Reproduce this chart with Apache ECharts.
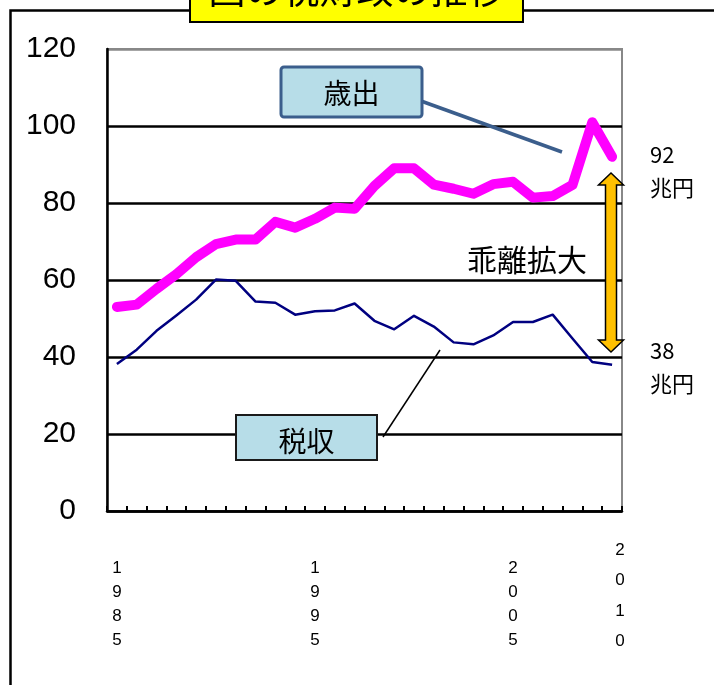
<!DOCTYPE html>
<html>
<head>
<meta charset="utf-8">
<script src="https://cdn.jsdelivr.net/npm/echarts@6/dist/echarts.min.js"></script>
<style>
  html, body { margin: 0; padding: 0; background: #ffffff; }
  #chart { width: 714px; height: 685px; }
</style>
</head>
<body>
<div id="chart"></div>
<script>
// Fiscal years on the category axis
const years = ['1985','1986','1987','1988','1989','1990','1991','1992','1993','1994',
               '1995','1996','1997','1998','1999','2000','2001','2002','2003','2004',
               '2005','2006','2007','2008','2009','2010'];
// Years that get a stacked label under the axis
const labelledYears = ['1985','1995','2005','2010'];
// General account expenditure (trillion yen)
const expenditure = [53.0, 53.6, 57.7, 61.5, 65.9, 69.3, 70.5, 70.5, 75.1, 73.6,
                     75.9, 78.8, 78.5, 84.4, 89.0, 89.0, 84.8, 83.7, 82.4, 84.9,
                     85.5, 81.4, 81.8, 84.7, 101.0, 92];
// Tax revenue (trillion yen)
const taxRevenue = [38.2, 41.9, 46.8, 50.8, 54.9, 60.1, 59.8, 54.4, 54.1, 51.0,
                    51.9, 52.1, 53.9, 49.4, 47.2, 50.7, 47.9, 43.8, 43.3, 45.6,
                    49.1, 49.1, 51.0, 44.8, 38.7, 38];
// Value axis ticks
const yTicks = [0, 20, 40, 60, 80, 100, 120];

const narrow = "'Liberation Sans Narrow', 'Liberation Sans', Arial, sans-serif";
const jp = "'Noto Sans CJK JP', 'Noto Sans', sans-serif";

const chart = echarts.init(document.getElementById('chart'), null, { renderer: 'canvas' });

function yearLabel(v) {
  if (labelledYears.indexOf(v) < 0) return '';
  const chars = v.split('');
  if (v === '2010') return chars.map(c => '{b|' + c + '}').join('\n');
  return '{p| }\n' + chars.map(c => '{a|' + c + '}').join('\n');
}

function endText(p) {
  return '{n|' + p.value + '}\n{u|兆円}';
}
const endRich = {
  n: { fontSize: 22, lineHeight: 33, fontFamily: jp, color: '#000' },
  u: { fontSize: 22, lineHeight: 33, fontFamily: jp, color: '#000' }
};

// Double-headed arrow between the two series ends
const ax = 611, aTop = 173, aBot = 352, hw = 12.5, hl = 12, sw = 5.5;
const arrowPts = [
  [ax, aTop], [ax + hw, aTop + hl], [ax + sw, aTop + hl], [ax + sw, aBot - hl],
  [ax + hw, aBot - hl], [ax, aBot], [ax - hw, aBot - hl], [ax - sw, aBot - hl],
  [ax - sw, aTop + hl], [ax - hw, aTop + hl]
];

chart.setOption({
  animation: false,
  backgroundColor: '#ffffff',
  grid: {
    left: 107, right: 92, top: 49, bottom: 174,
    show: true, borderColor: '#888888', borderWidth: 2, backgroundColor: 'transparent'
  },
  xAxis: {
    type: 'category',
    data: years,
    boundaryGap: true,
    axisLine: { lineStyle: { color: '#000', width: 2.5 } },
    axisTick: { show: true, inside: true, length: 5, interval: 0, lineStyle: { color: '#000', width: 2 } },
    axisLabel: {
      interval: 0,
      margin: 24,
      verticalAlign: 'top',
      formatter: yearLabel,
      rich: {
        a: { fontSize: 17, lineHeight: 24, fontFamily: narrow, color: '#000' },
        b: { fontSize: 17, lineHeight: 30.5, fontFamily: narrow, color: '#000', padding: [0, 0, 0, 16] },
        p: { fontSize: 1, lineHeight: 21 }
      }
    },
    splitLine: { show: false }
  },
  yAxis: {
    type: 'value',
    min: yTicks[0],
    max: yTicks[yTicks.length - 1],
    interval: 20,
    axisLine: { show: true, lineStyle: { color: '#000', width: 2.5 } },
    axisTick: { show: false },
    axisLabel: { margin: 31, fontSize: 30, fontFamily: narrow, color: '#000' },
    splitLine: {
      show: true,
      lineStyle: { color: ['#000', '#000', '#000', '#000', '#000', '#000', '#888'], width: 2.5 }
    }
  },
  series: [
    {
      name: '歳出',
      type: 'line',
      data: expenditure,
      showSymbol: false,
      symbol: 'none',
      lineStyle: { color: '#ff00ff', width: 10, cap: 'round', join: 'round' },
      z: 3,
      endLabel: {
        show: true, formatter: endText, rich: endRich,
        distance: 38, offset: [0, 14.5], align: 'left'
      }
    },
    {
      name: '税収',
      type: 'line',
      data: taxRevenue,
      showSymbol: false,
      symbol: 'none',
      lineStyle: { color: '#000080', width: 2.5, join: 'round' },
      z: 2,
      endLabel: {
        show: true, formatter: endText, rich: endRich,
        distance: 38, offset: [0, 2.3], align: 'left'
      }
    }
  ],
  graphic: [
    // outer frame
    { type: 'rect', z: 50, silent: true,
      shape: { x: 10.5, y: 10.5, width: 900, height: 900 },
      style: { fill: 'none', stroke: '#000', lineWidth: 2.5 } },
    // title banner
    { type: 'rect', z: 60, silent: true,
      shape: { x: 190, y: -12, width: 333, height: 34 },
      style: { fill: '#ffff00', stroke: '#000', lineWidth: 2 } },
    { type: 'text', z: 61, silent: true, x: 356.5, y: -10,
      style: { text: '国の税財政の推移', font: '37px ' + jp, fill: '#000', align: 'center', verticalAlign: 'middle' } },
    // expenditure callout
    { type: 'line', z: 60, silent: true,
      shape: { x1: 421, y1: 101, x2: 562, y2: 152 },
      style: { stroke: '#3b5e8c', lineWidth: 3.5 } },
    { type: 'rect', z: 61, silent: true,
      shape: { x: 281, y: 67, width: 141, height: 50, r: 3 },
      style: { fill: '#b7dde8', stroke: '#3b5e8c', lineWidth: 3 } },
    { type: 'text', z: 62, silent: true, x: 351.5, y: 93,
      style: { text: '歳出', font: '28px ' + jp, fill: '#000', align: 'center', verticalAlign: 'middle' } },
    // tax revenue callout
    { type: 'line', z: 60, silent: true,
      shape: { x1: 383, y1: 437, x2: 440, y2: 350 },
      style: { stroke: '#000', lineWidth: 1.5 } },
    { type: 'rect', z: 61, silent: true,
      shape: { x: 236, y: 415, width: 141, height: 45 },
      style: { fill: '#b7dde8', stroke: '#1a1a1a', lineWidth: 2 } },
    { type: 'text', z: 62, silent: true, x: 306.5, y: 441,
      style: { text: '税収', font: '28px ' + jp, fill: '#000', align: 'center', verticalAlign: 'middle' } },
    // widening gap
    { type: 'text', z: 62, silent: true, x: 527, y: 260,
      style: { text: '乖離拡大', font: '30px ' + jp, fill: '#000', align: 'center', verticalAlign: 'middle' } },
    { type: 'polygon', z: 63, silent: true,
      shape: { points: arrowPts },
      style: { fill: '#ffc000', stroke: '#000', lineWidth: 1.5 } }
  ]
});
</script>
</body>
</html>
